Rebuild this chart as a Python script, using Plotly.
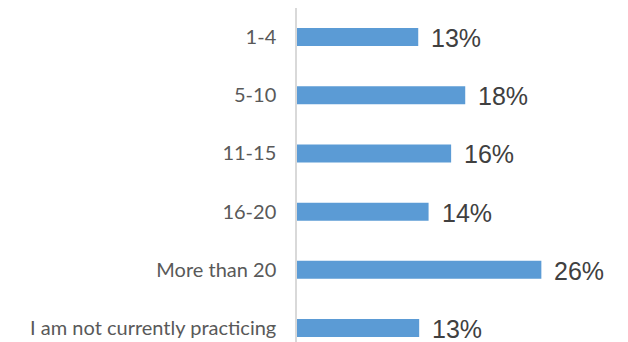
import plotly.graph_objects as go

categories = ["1-4", "5-10", "11-15", "16-20", "More than 20", "I am not currently practicing"]
values = [12.9, 17.9, 16.4, 14.0, 26.0, 13.0]
labels = ["13%", "18%", "16%", "14%", "26%", "13%"]

fig = go.Figure()
fig.add_trace(go.Bar(
    x=values, y=categories, orientation="h",
    marker=dict(color="#5B9BD5", line=dict(width=0)),
    width=0.31, hoverinfo="skip",
))
for c, v, t in zip(categories, values, labels):
    fig.add_annotation(x=v, y=c, text=t, showarrow=False, xanchor="left",
                       xshift=11, yshift=-1,
                       font=dict(family="Liberation Sans, Arial", size=25, color="#404040"))

fig.update_layout(
    width=620, height=334,
    margin=dict(l=289, r=3, t=0, b=0),
    paper_bgcolor="white", plot_bgcolor="white",
    showlegend=False,
    xaxis=dict(range=[0, 34.9], showgrid=False, zeroline=False, showticklabels=False,
               showline=False),
    yaxis=dict(range=[5.24, -0.5], autorange=False, showgrid=False, zeroline=False,
               showline=True, linecolor="#d9d9d9", linewidth=1.5,
               ticks="", ticklabelstandoff=15,
               tickfont=dict(family="Lato", size=20, color="#595959")),
)
fig.write_html("out.html")
